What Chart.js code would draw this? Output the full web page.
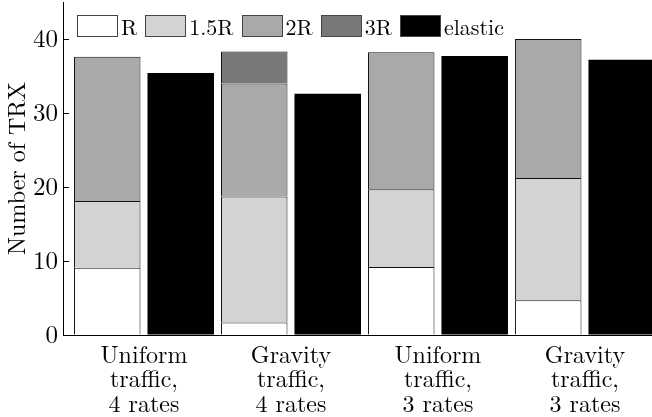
<!DOCTYPE html>
<html>
<head>
<meta charset="utf-8">
<script src="https://cdn.jsdelivr.net/npm/chart.js@4/dist/chart.umd.min.js"></script>
<style>
    body { margin: 0; background: #fff; }
    #wrap { position: relative; width: 652px; height: 417px; }
    #legend {
        position: absolute; left: 77px; top: 14px;
        display: flex; align-items: center;
        font-size: 22px; line-height: 24px; color: #000;
    }
    #legend .item { display: flex; align-items: center; margin-right: 8px; }
    #legend .box { width: 39px; height: 20px; border: 1px solid #444; margin-right: 3px; }
</style>
</head>
<body>
<div id="wrap">
    <canvas id="trxChart" width="652" height="417"></canvas>
    <div id="legend"></div>
</div>
<script>
// categories (one label per group, split over lines)
const CATEGORIES = [
    ['Uniform', 'traffic,', '4 rates'],
    ['Gravity', 'traffic,', '4 rates'],
    ['Uniform', 'traffic,', '3 rates'],
    ['Gravity', 'traffic,', '3 rates']
];

// stacked shares per rate
const R_VALUES = [9.1, 1.7, 9.2, 4.7];
const R15_VALUES = [9.0, 17.0, 10.5, 16.5];
const R2_VALUES = [19.5, 15.3, 18.5, 18.8];
const R3_VALUES = [null, 4.3, null, null];
const ELASTIC_VALUES = [35.4, 32.6, 37.7, 37.2];

const Y_TICKS = [0, 10, 20, 30, 40];

// first face of the list that is really installed (must differ from both fallbacks)
function pickFont(names) {
    const ctx = document.createElement('canvas').getContext('2d');
    const sample = 'Number of TRX 1.5R elastic Wgiy 0123';
    for (const name of names) {
        let real = true;
        for (const base of ['monospace', 'sans-serif']) {
            ctx.font = '40px ' + base;
            const w0 = ctx.measureText(sample).width;
            ctx.font = '40px "' + name + '", ' + base;
            if (ctx.measureText(sample).width === w0) real = false;
        }
        if (real) return '"' + name + '", serif';
    }
    return null;
}
const FONT = pickFont(['Latin Modern Roman', 'CMU Serif', 'Liberation Serif', 'Times New Roman',
    'Tinos', 'DejaVu Serif', 'Noto Serif', 'FreeSerif']) || 'serif';
const legendEl = document.getElementById('legend');
legendEl.style.fontFamily = FONT;

function points(values) {
    return values.map(function(v, i) { return { x: i, y: v }; });
}

function stackedSet(label, values, color) {
    return {
        label: label,
        data: points(values),
        stack: 'mixed',
        backgroundColor: color,
        borderColor: '#111',
        borderWidth: { top: 1, left: 1, right: 1, bottom: 0 },
        borderSkipped: false
    };
}

const datasets = [
    stackedSet('R', R_VALUES, '#ffffff'),
    stackedSet('1.5R', R15_VALUES, '#d3d3d3'),
    stackedSet('2R', R2_VALUES, '#a9a9a9'),
    stackedSet('3R', R3_VALUES, '#787878'),
    {
        label: 'elastic',
        data: points(ELASTIC_VALUES),
        stack: 'elastic',
        backgroundColor: '#000000',
        borderWidth: 0
    }
];

const chart = new Chart(document.getElementById('trxChart'), {
    type: 'bar',
    data: { datasets: datasets },
    options: {
        responsive: false,
        animation: false,
        categoryPercentage: 1.0,
        barPercentage: 0.905,
        layout: { padding: { top: 2, right: 0, left: 0, bottom: 0 } },
        plugins: {
            legend: { display: false },
            tooltip: { enabled: false }
        },
        scales: {
            x: {
                type: 'linear',
                offset: false,
                min: -0.551,
                max: 3.456,
                grid: { display: false, offset: false },
                border: { display: true, color: '#000', width: 1 },
                afterBuildTicks: function(scale) {
                    scale.ticks = CATEGORIES.map(function(c, i) { return { value: i }; });
                },
                afterFit: function(scale) {
                    scale.height = 82;
                    scale.paddingLeft = 0;
                    scale.paddingRight = 0;
                },
                ticks: {
                    autoSkip: false,
                    maxRotation: 0,
                    padding: 0,
                    color: '#000',
                    font: { family: FONT, size: 24, lineHeight: 1.02 },
                    callback: function(value) { return CATEGORIES[value]; }
                }
            },
            y: {
                stacked: true,
                min: 0,
                max: 45,
                afterBuildTicks: function(scale) {
                    scale.ticks = Y_TICKS.map(function(v) { return { value: v }; });
                },
                afterFit: function(scale) {
                    scale.width = 63;
                    scale.paddingTop = 0;
                    scale.paddingBottom = 0;
                },
                grid: {
                    drawOnChartArea: true,
                    drawTicks: false,
                    color: '#000',
                    lineWidth: 1
                },
                // short dash = inward tick marks
                border: { display: true, color: '#000', width: 1, dash: [5, 3000] },
                ticks: {
                    padding: 5,
                    color: '#000',
                    font: { family: FONT, size: 25 }
                },
                title: {
                    display: true,
                    text: 'Number of TRX',
                    color: '#000',
                    padding: { top: 3, bottom: 0 },
                    font: { family: FONT, size: 24 }
                }
            }
        }
    }
});

// legend drawn as html so the boxes can sit inside the plot area
chart.data.datasets.forEach(function(ds) {
    const item = document.createElement('div');
    item.className = 'item';
    const box = document.createElement('span');
    box.className = 'box';
    box.style.background = ds.backgroundColor;
    const text = document.createElement('span');
    text.textContent = ds.label;
    item.appendChild(box);
    item.appendChild(text);
    legendEl.appendChild(item);
});
</script>
</body>
</html>
